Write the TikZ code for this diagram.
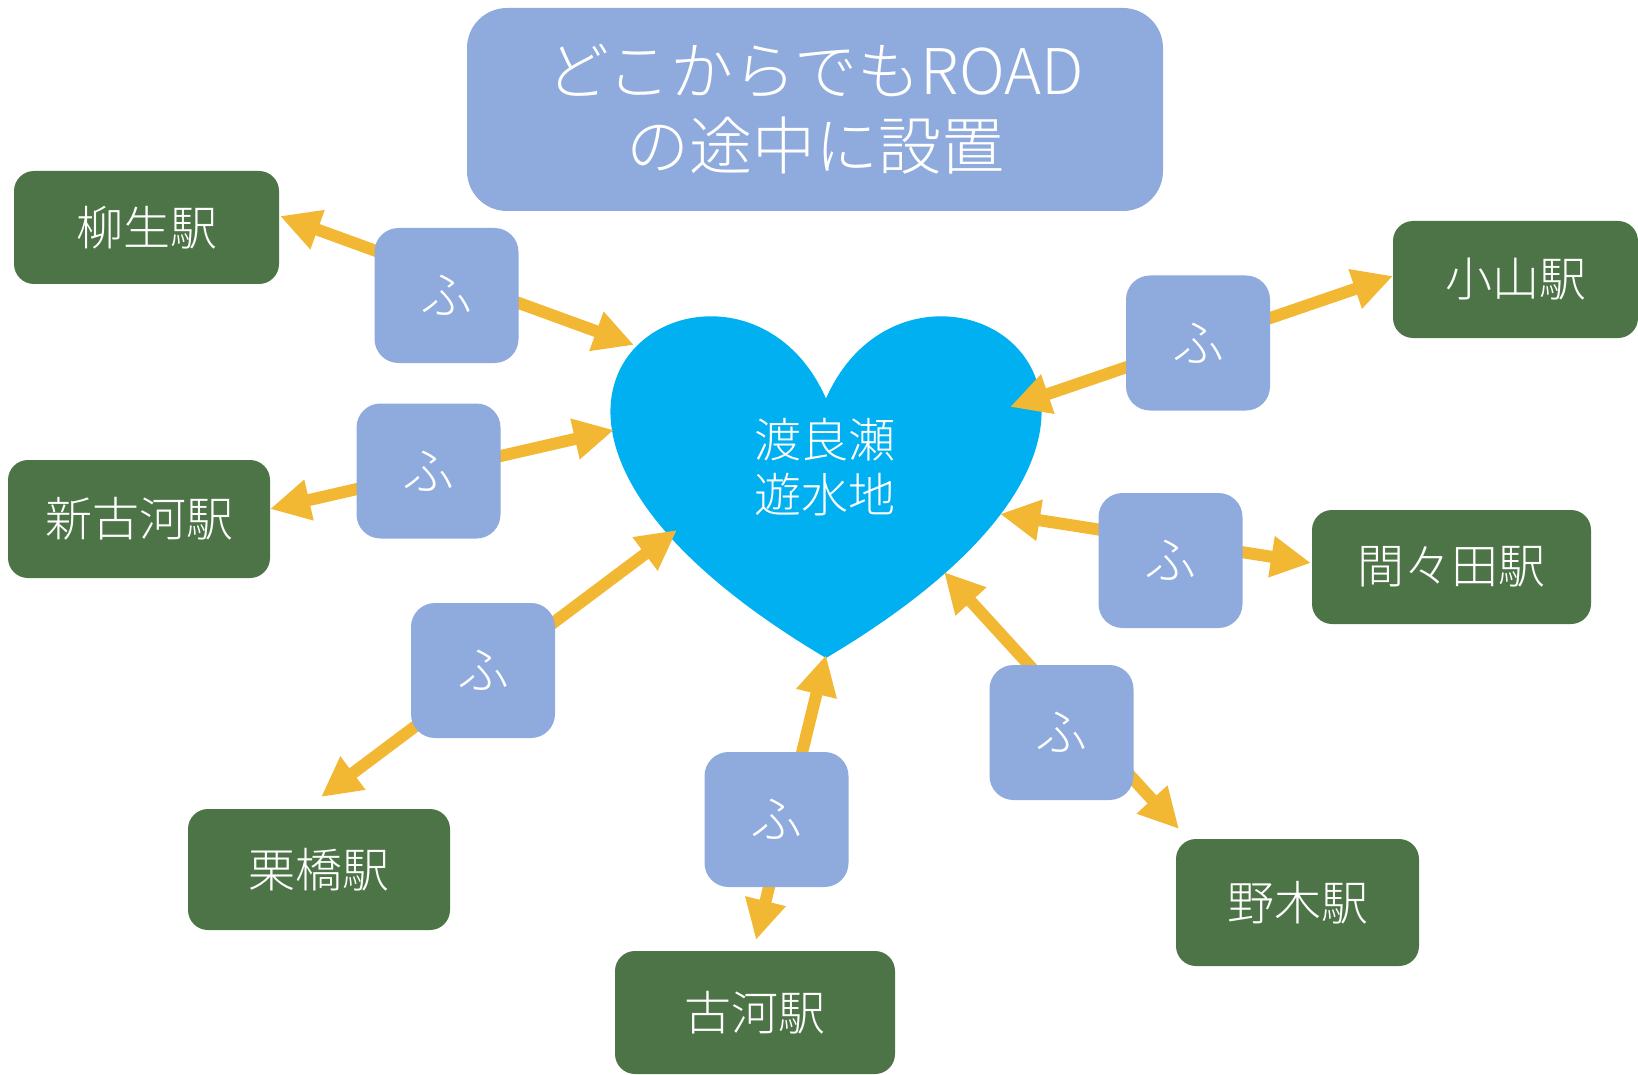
\documentclass[tikz,border=0pt]{standalone}
\usepackage{fontspec}
\IfFontExistsTF{Noto Sans CJK JP Light}
  {\setmainfont{Noto Sans CJK JP Light}}
  {\setmainfont{Noto Sans CJK JP}}
\usetikzlibrary{arrows.meta}
\definecolor{fublue}{HTML}{8FAADC}
\definecolor{heartblue}{HTML}{00B0F0}
\definecolor{stgreen}{HTML}{4D7446}
\definecolor{arrowgold}{HTML}{F2B733}
\begin{document}
\begin{tikzpicture}[x=1pt,y=-1pt,
  station/.style={fill=stgreen, rounded corners=20pt, text=white, inner sep=0pt,
    font=\fontsize{47}{55}\selectfont},
  fubox/.style={fill=fublue, rounded corners=24pt, text=white, inner sep=0pt,
    minimum width=144pt, minimum height=135pt, font=\fontsize{52}{60}\selectfont},
  titlebox/.style={fill=fublue, rounded corners=40pt, text=white, inner sep=0pt,
    align=center, font=\fontsize{63}{75}\selectfont},
  hearttext/.style={text=white, align=center, font=\fontsize{47}{55}\selectfont},
  link/.style={draw=arrowgold, line width=12pt,
    {Triangle[length=40pt,width=39pt]}-{Triangle[length=40pt,width=39pt]}},
]
\useasboundingbox (0,0) rectangle (1638,1075);

% title
\node[titlebox, minimum width=696pt, minimum height=203pt] (title) at (815,109.5)
  {どこからでもROAD\\の途中に設置};

% heart
\fill[heartblue] (826,398.5) .. controls (915.2,196.7) and (1262.9,398.5) .. (826,658)
  .. controls (389.1,398.5) and (736.8,196.7) .. (826,398.5);
\node[hearttext] (heart) at (825,467) {渡良瀬\\遊水地};

% stations
\node[station, minimum width=265pt, minimum height=113pt] (yagyu) at (146.5,227.5) {柳生駅};
\node[station, minimum width=262pt, minimum height=118pt] (shinkoga) at (139,519) {新古河駅};
\node[station, minimum width=262pt, minimum height=121pt] (kurihashi) at (319,869.5) {栗橋駅};
\node[station, minimum width=280pt, minimum height=123pt] (koga) at (755,1012.5) {古河駅};
\node[station, minimum width=243pt, minimum height=127pt] (nogi) at (1297.5,902.5) {野木駅};
\node[station, minimum width=279pt, minimum height=114pt] (mamada) at (1451.5,567) {間々田駅};
\node[station, minimum width=245pt, minimum height=117pt] (oyama) at (1515.5,279.5) {小山駅};

% arrow end points
\coordinate (a1s) at (280,216);   \coordinate (a1h) at (634,345);
\coordinate (a2s) at (270,509);   \coordinate (a2h) at (614,430);
\coordinate (a3s) at (321,797);   \coordinate (a3h) at (677,530);
\coordinate (a4s) at (756,940);   \coordinate (a4h) at (826,655);
\coordinate (a5s) at (1179,829);  \coordinate (a5h) at (944,572);
\coordinate (a6s) at (1311,563);  \coordinate (a6h) at (1000,514);
\coordinate (a7s) at (1393,276);  \coordinate (a7h) at (1010,407);

\draw[link] (a1s) -- (a1h);
\draw[link] (a2s) -- (a2h);
\draw[link] (a3s) -- (a3h);
\draw[link] (a4s) -- (a4h);
\draw[link] (a5s) -- (a5h);
\draw[link] (a6s) -- (a6h);
\draw[link] (a7s) -- (a7h);

% fu boxes
\node[fubox] (f1) at (446.5,295.5) {ふ};
\node[fubox] (f2) at (428.5,471) {ふ};
\node[fubox] (f3) at (483,670.5) {ふ};
\node[fubox] (f4) at (776.5,819.5) {ふ};
\node[fubox] (f5) at (1061.5,732.5) {ふ};
\node[fubox] (f6) at (1170.5,560.5) {ふ};
\node[fubox] (f7) at (1198,343) {ふ};
\end{tikzpicture}
\end{document}
